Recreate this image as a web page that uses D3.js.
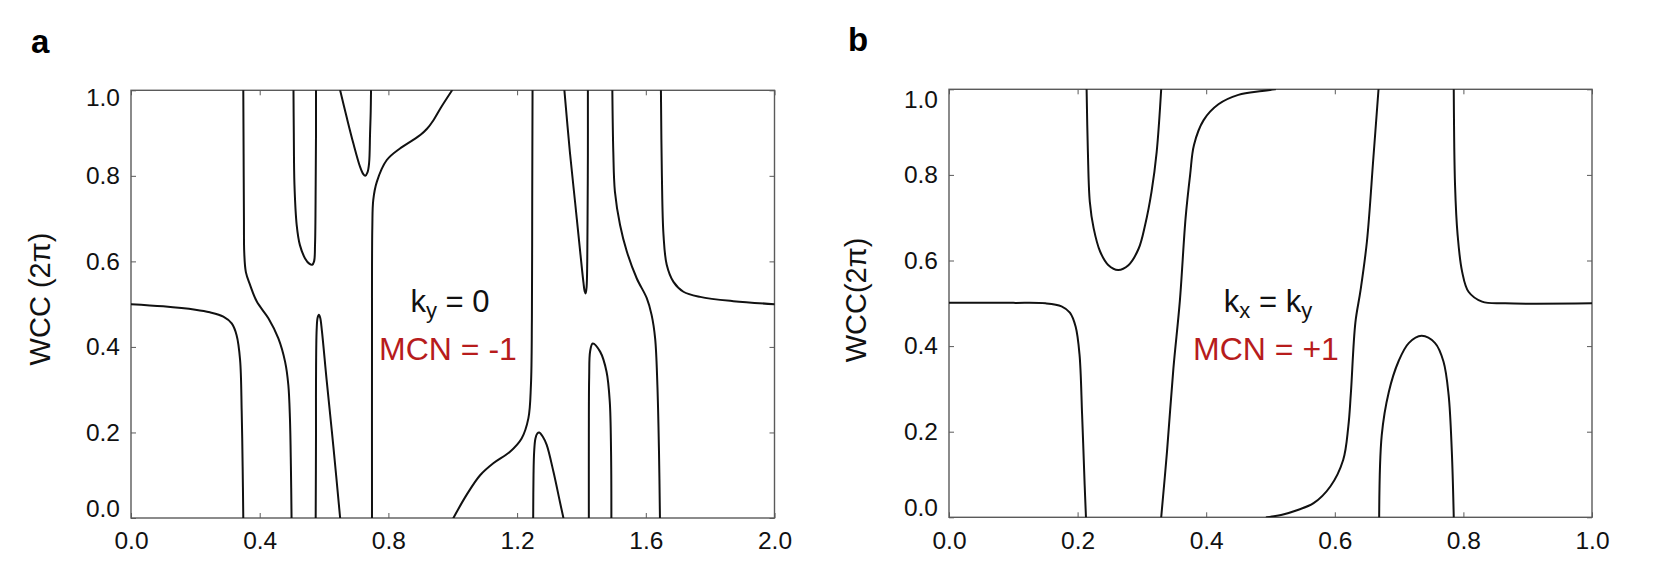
<!DOCTYPE html>
<html>
<head>
<meta charset="utf-8">
<script src="https://cdn.jsdelivr.net/npm/d3@7"></script>
<style>
  html, body { margin: 0; padding: 0; background: #fff; }
  svg { display: block; }
  text { font-family: "Liberation Sans", Arial, Helvetica, sans-serif; }
</style>
</head>
<body>
<svg id="chart" width="1663" height="574"></svg>
<script>
// ---------------- DATA ----------------
const xTicksA = [0.0, 0.4, 0.8, 1.2, 1.6, 2.0];
const xTicksB = [0.0, 0.2, 0.4, 0.6, 0.8, 1.0];
const yTicks = [0.0, 0.2, 0.4, 0.6, 0.8, 1.0];

// Panel a: WCC (2π) branches, ky = 0
const a1 = [[0,0.500],[0.10,0.495],[0.20,0.487],[0.245,0.481],[0.287,0.471],[0.313,0.455],[0.328,0.428],[0.339,0.370],[0.344,0.250],[0.347,0.120],[0.349,0.0]];
const a2 = [[0.349,1.0],[0.350,0.85],[0.351,0.70],[0.352,0.62],[0.357,0.575],[0.370,0.545],[0.391,0.506],[0.427,0.467],[0.458,0.420],[0.479,0.365],[0.489,0.311],[0.494,0.233],[0.497,0.12],[0.499,0.0]];
const a3 = [[0.505,1.0],[0.506,0.90],[0.508,0.78],[0.515,0.685],[0.525,0.638],[0.541,0.607],[0.555,0.594],[0.563,0.592],[0.569,0.600],[0.572,0.640],[0.574,0.78],[0.575,0.90],[0.575,1.0]];
const a4 = [[0.574,0.0],[0.575,0.20],[0.575,0.32],[0.577,0.44],[0.580,0.468],[0.584,0.475],[0.588,0.468],[0.593,0.440],[0.608,0.323],[0.629,0.167],[0.650,0.0]];
const a5 = [[0.650,1.0],[0.670,0.938],[0.691,0.876],[0.712,0.821],[0.722,0.804],[0.728,0.800],[0.735,0.808],[0.740,0.830],[0.743,0.899],[0.745,0.950],[0.746,1.0]];
const a6 = [[0.749,0.0],[0.749,0.40],[0.750,0.68],[0.753,0.744],[0.764,0.786],[0.795,0.837],[0.836,0.864],[0.877,0.884],[0.900,0.896],[0.920,0.910],[0.940,0.930],[0.962,0.958],[0.998,1.0]];
const a7 = [[1.002,0.0],[1.043,0.054],[1.085,0.100],[1.126,0.128],[1.178,0.155],[1.214,0.186],[1.235,0.233],[1.243,0.311],[1.246,0.467],[1.247,0.75],[1.248,1.0]];
const a8 = [[1.250,0.0],[1.251,0.10],[1.253,0.155],[1.257,0.186],[1.263,0.198],[1.269,0.200],[1.280,0.190],[1.292,0.171],[1.313,0.108],[1.333,0.038],[1.344,0.0]];
const a9 = [[1.347,1.0],[1.364,0.856],[1.380,0.740],[1.396,0.623],[1.406,0.552],[1.410,0.530],[1.413,0.525],[1.416,0.540],[1.418,0.600],[1.419,0.700],[1.420,0.850],[1.420,1.0]];
const a10 = [[1.423,0.0],[1.423,0.20],[1.424,0.33],[1.427,0.39],[1.435,0.408],[1.458,0.389],[1.478,0.342],[1.488,0.272],[1.492,0.155],[1.493,0.0]];
const a11 = [[1.496,1.0],[1.499,0.856],[1.504,0.763],[1.520,0.685],[1.541,0.623],[1.572,0.560],[1.603,0.514],[1.618,0.475],[1.629,0.420],[1.636,0.311],[1.641,0.155],[1.644,0.0]];
const a12 = [[1.647,1.0],[1.650,0.80],[1.655,0.662],[1.665,0.592],[1.686,0.552],[1.717,0.529],[1.769,0.517],[1.872,0.507],[2.0,0.500]];

// Panel b: WCC (2π) branches, kx = ky
const b1 = [[0,0.501],[0.10,0.501],[0.150,0.500],[0.175,0.493],[0.188,0.478],[0.197,0.445],[0.203,0.380],[0.207,0.240],[0.211,0.075],[0.213,0.0]];
const b2 = [[0.214,1.0],[0.216,0.854],[0.219,0.737],[0.225,0.675],[0.235,0.621],[0.248,0.589],[0.263,0.578],[0.279,0.589],[0.295,0.628],[0.305,0.683],[0.315,0.761],[0.323,0.854],[0.330,1.0]];
const b3 = [[0.330,0.0],[0.339,0.153],[0.349,0.348],[0.359,0.505],[0.368,0.700],[0.375,0.800],[0.381,0.870],[0.396,0.928],[0.419,0.965],[0.450,0.987],[0.487,0.996],[0.507,1.0]];
const b4 = [[0.494,0.0],[0.518,0.006],[0.540,0.016],[0.567,0.033],[0.593,0.072],[0.613,0.134],[0.621,0.212],[0.625,0.290],[0.632,0.455],[0.640,0.530],[0.650,0.645],[0.660,0.840],[0.668,1.0]];
const b5 = [[0.669,0.0],[0.673,0.192],[0.684,0.293],[0.699,0.364],[0.715,0.407],[0.735,0.424],[0.756,0.407],[0.769,0.364],[0.777,0.286],[0.782,0.153],[0.785,0.0]];
const b6 = [[0.785,1.0],[0.787,0.776],[0.791,0.660],[0.798,0.574],[0.808,0.527],[0.829,0.504],[0.865,0.500],[1.0,0.500]];

const panels = [
  { id: "a", letter: "a", xDomain: [0, 2], xTicks: xTicksA, curves: [a1,a2,a3,a4,a5,a6,a7,a8,a9,a10,a11,a12],
    ylabel: "WCC (2\u03c0)", k1: "k", k1sub: "y", k2: " = 0", k2sub: "", mcn: "MCN = -1" },
  { id: "b", letter: "b", xDomain: [0, 1], xTicks: xTicksB, curves: [b1,b2,b3,b4,b5,b6],
    ylabel: "WCC(2\u03c0)", k1: "k", k1sub: "x", k2: " = k", k2sub: "y", mcn: "MCN = +1" }
];

// ---------------- LAYOUT ----------------
const layout = {
  a: { left: 131, right: 774.5, top: 90.3, bottom: 518, letterX: 31, letterY: 52.5, ylabX: 50, ylabY: 299, annX: 450 },
  b: { left: 949, right: 1592, top: 89.3, bottom: 517.3, letterX: 848, letterY: 50.5, ylabX: 866, ylabY: 300, annX: 1268 }
};

const svg = d3.select("#chart");
const frameColor = "#5a5a5a";
const red = "#b71c1c";

panels.forEach(p => {
  const L = layout[p.id];
  const x = d3.scaleLinear().domain(p.xDomain).range([L.left, L.right]);
  const y = d3.scaleLinear().domain([0, 1]).range([L.bottom, L.top]);
  const g = svg.append("g");

  const clipId = "clip-" + p.id;
  svg.append("defs").append("clipPath").attr("id", clipId)
    .append("rect").attr("x", L.left).attr("y", L.top)
    .attr("width", L.right - L.left).attr("height", L.bottom - L.top);

  const fmt = d3.format(".1f");
  const ax = g.append("g").attr("transform", `translate(0,${L.bottom})`)
    .call(d3.axisBottom(x).tickValues(p.xTicks).tickSize(-5).tickSizeOuter(0).tickPadding(14).tickFormat(fmt));
  const axT = g.append("g").attr("transform", `translate(0,${L.top})`)
    .call(d3.axisTop(x).tickValues(p.xTicks).tickSize(-5).tickSizeOuter(0).tickFormat(""));
  const ay = g.append("g").attr("transform", `translate(${L.left},0)`)
    .call(d3.axisLeft(y).tickValues(yTicks).tickSize(-5).tickSizeOuter(0).tickPadding(11).tickFormat(fmt));
  const ayR = g.append("g").attr("transform", `translate(${L.right},0)`)
    .call(d3.axisRight(y).tickValues(yTicks).tickSize(-5).tickSizeOuter(0).tickFormat(""));

  [ax, axT, ay, ayR].forEach(a => {
    a.select(".domain").remove();
    a.selectAll(".tick line").attr("stroke", frameColor).attr("stroke-width", 1);
    a.selectAll(".tick text").attr("fill", "#111").style("font-size", "24.5px")
      .style("font-family", '"Liberation Sans", Arial, sans-serif');
  });
  ay.selectAll(".tick text").attr("dy", d => d === 0 ? "-0.08em" : (d === 1 ? (p.id === "a" ? "0.6em" : "0.76em") : "0.32em"));
  ax.selectAll(".tick text").attr("dy", "0.71em");

  g.append("rect").attr("x", L.left).attr("y", L.top)
    .attr("width", L.right - L.left).attr("height", L.bottom - L.top)
    .attr("fill", "none").attr("stroke", frameColor).attr("stroke-width", 1.4);

  const line = d3.line().x(d => x(d[0])).y(d => y(d[1])).curve(d3.curveCatmullRom.alpha(0.5));
  g.append("g").attr("clip-path", `url(#${clipId})`)
    .selectAll("path").data(p.curves).join("path")
    .attr("d", line).attr("fill", "none").attr("stroke", "#111")
    .attr("stroke-width", 2).attr("stroke-linejoin", "round").attr("stroke-linecap", "round");

  svg.append("text").attr("x", L.letterX).attr("y", L.letterY)
    .style("font-size", "33px").style("font-weight", "bold").attr("fill", "#000").text(p.letter);

  svg.append("text").attr("transform", `translate(${L.ylabX},${L.ylabY}) rotate(-90)`)
    .attr("text-anchor", "middle").style("font-size", "29px").attr("fill", "#111").text(p.ylabel);

  const t = svg.append("text").attr("x", L.annX).attr("y", 312)
    .attr("text-anchor", "middle").style("font-size", "31px").attr("fill", "#111");
  t.append("tspan").text(p.k1);
  t.append("tspan").text(p.k1sub).style("font-size", "22px").attr("dy", 6);
  t.append("tspan").text(p.k2).attr("dy", -6);
  if (p.k2sub) t.append("tspan").text(p.k2sub).style("font-size", "22px").attr("dy", 6);

  svg.append("text").attr("x", L.annX - 2).attr("y", 360)
    .attr("text-anchor", "middle").style("font-size", "32px").attr("fill", red).text(p.mcn);
});
</script>
</body>
</html>
